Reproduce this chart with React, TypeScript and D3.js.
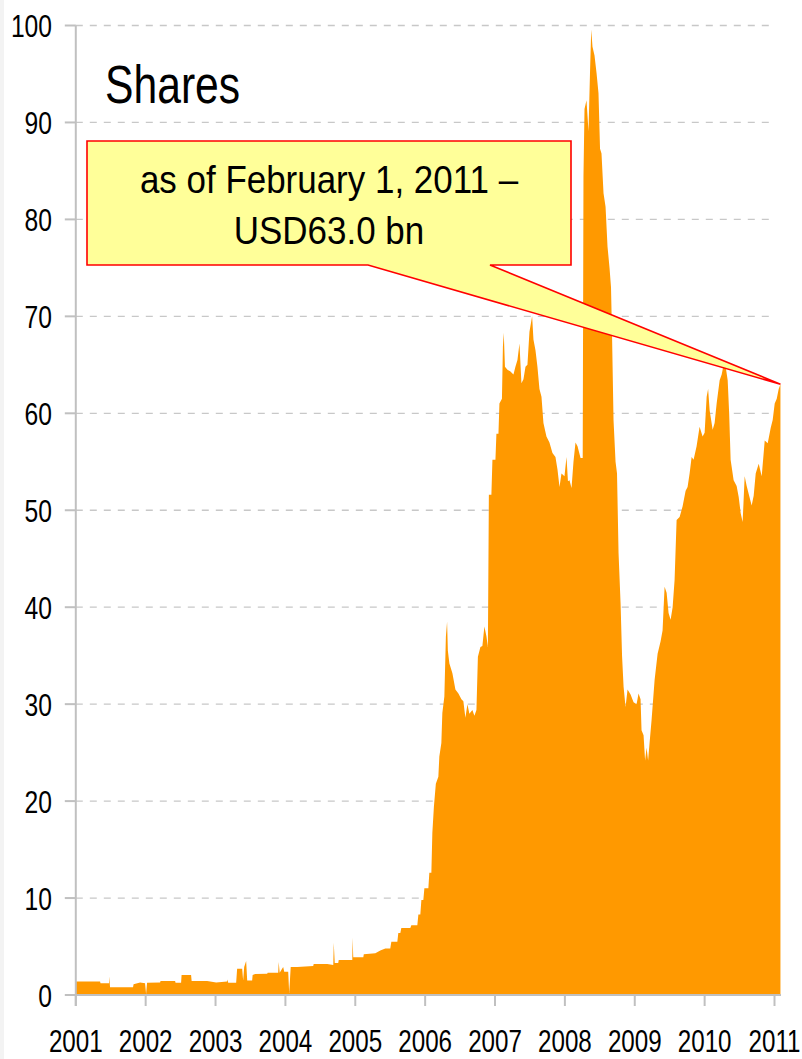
import { FC, useEffect, useRef } from 'react';
import * as d3 from 'd3';

// decimal year of each reading
const dates: number[] = [
  2001.003, 2001.347, 2001.354, 2001.476, 2001.48, 2001.49, 2001.819, 2001.827, 2001.92, 2001.991,
  2002.006, 2002.02, 2002.206, 2002.213, 2002.421, 2002.428, 2002.507, 2002.514, 2002.65, 2002.658,
  2002.88, 2003.009, 2003.166, 2003.173, 2003.181, 2003.295, 2003.309, 2003.381, 2003.395, 2003.41,
  2003.438, 2003.453, 2003.524, 2003.531, 2003.567, 2003.739, 2003.746, 2003.897, 2003.904, 2003.918,
  2003.968, 2003.983, 2004.04, 2004.054, 2004.076, 2004.169, 2004.398, 2004.405, 2004.599, 2004.685,
  2004.692, 2004.706, 2004.756, 2004.763, 2004.957, 2004.961, 2004.971, 2005.115, 2005.122, 2005.287,
  2005.358, 2005.43, 2005.501, 2005.516, 2005.602, 2005.616, 2005.645, 2005.659, 2005.788, 2005.802,
  2005.888, 2005.903, 2005.931, 2005.946, 2005.974, 2005.989, 2006.046, 2006.06, 2006.089, 2006.103,
  2006.125, 2006.153, 2006.189, 2006.203, 2006.232, 2006.246, 2006.275, 2006.297, 2006.314, 2006.325,
  2006.347, 2006.39, 2006.433, 2006.476, 2006.519, 2006.547, 2006.576, 2006.605, 2006.633, 2006.676,
  2006.705, 2006.734, 2006.755, 2006.791, 2006.819, 2006.848, 2006.877, 2006.898, 2006.912, 2006.948,
  2006.963, 2007.006, 2007.02, 2007.049, 2007.063, 2007.099, 2007.113, 2007.125, 2007.142, 2007.178,
  2007.221, 2007.264, 2007.292, 2007.321, 2007.35, 2007.378, 2007.407, 2007.436, 2007.464, 2007.493,
  2007.531, 2007.55, 2007.579, 2007.607, 2007.636, 2007.665, 2007.693, 2007.736, 2007.779, 2007.822,
  2007.865, 2007.894, 2007.923, 2007.951, 2007.994, 2008.023, 2008.044, 2008.066, 2008.095, 2008.123,
  2008.152, 2008.181, 2008.224, 2008.255, 2008.266, 2008.281, 2008.309, 2008.338, 2008.359, 2008.377,
  2008.395, 2008.424, 2008.453, 2008.481, 2008.503, 2008.524, 2008.553, 2008.582, 2008.61, 2008.639,
  2008.66, 2008.675, 2008.696, 2008.725, 2008.746, 2008.768, 2008.797, 2008.818, 2008.84, 2008.868,
  2008.897, 2008.94, 2008.983, 2009.026, 2009.054, 2009.083, 2009.097, 2009.126, 2009.148, 2009.169,
  2009.191, 2009.212, 2009.241, 2009.284, 2009.327, 2009.37, 2009.398, 2009.427, 2009.456, 2009.484,
  2009.513, 2009.542, 2009.57, 2009.599, 2009.642, 2009.685, 2009.728, 2009.756, 2009.785, 2009.814,
  2009.842, 2009.885, 2009.928, 2009.971, 2010.0, 2010.029, 2010.05, 2010.072, 2010.115, 2010.143,
  2010.172, 2010.215, 2010.244, 2010.272, 2010.301, 2010.33, 2010.351, 2010.372, 2010.415, 2010.458,
  2010.487, 2010.516, 2010.544, 2010.573, 2010.602, 2010.63, 2010.673, 2010.702, 2010.731, 2010.774,
  2010.817, 2010.86, 2010.903, 2010.946, 2010.974, 2011.003, 2011.032, 2011.06, 2011.085,
];

// USD bn
const shares: number[] = [
  1.4, 1.4, 1.2, 1.2, 1.9, 0.8, 0.8, 1.1, 1.3, 1.2,
  0.1, 1.27, 1.3, 1.44, 1.44, 1.27, 1.27, 2.06, 2.06, 1.44,
  1.44, 1.3, 1.4, 1.6, 1.27, 1.27, 2.7, 2.7, 1.5, 2.9,
  3.5, 1.5, 1.5, 2.06, 2.17, 2.2, 2.3, 2.3, 3.4, 2.3,
  2.9, 2.4, 2.4, 0.2, 2.9, 2.9, 3.0, 3.2, 3.2, 3.1,
  5.4, 3.3, 3.3, 3.6, 3.6, 5.9, 3.9, 3.9, 4.2, 4.3,
  4.6, 4.8, 4.8, 5.5, 5.5, 6.4, 6.4, 6.9, 6.9, 7.2,
  7.2, 8.3, 8.3, 9.8, 9.8, 11.0, 11.0, 12.6, 12.6, 16.7,
  19.4, 21.8, 22.5, 24.6, 26.0, 29.1, 30.8, 37.0, 38.5, 35.5,
  34.2, 33.2, 31.5, 31.1, 30.5, 30.3, 28.6, 30.0, 29.0, 29.4,
  28.8, 29.4, 34.9, 35.9, 36.0, 38.0, 37.0, 35.9, 51.6, 51.6,
  55.2, 55.2, 57.9, 57.9, 61.0, 61.5, 66.9, 68.3, 64.8, 64.5,
  64.3, 64.0, 64.8, 65.5, 67.2, 63.1, 63.5, 64.8, 65.0, 68.4,
  70.0, 67.6, 66.5, 64.8, 62.5, 61.7, 59.0, 57.6, 57.0, 55.9,
  55.5, 54.2, 52.4, 53.8, 53.5, 55.5, 53.0, 53.1, 52.3, 55.0,
  57.0, 56.6, 55.4, 55.4, 84.5, 91.4, 92.3, 89.1, 95.0, 99.6,
  97.8, 96.9, 95.1, 93.0, 87.3, 86.8, 82.7, 81.3, 77.2, 75.0,
  73.0, 68.0, 59.3, 55.0, 53.8, 45.6, 40.4, 35.0, 31.8, 29.7,
  31.5, 31.0, 30.2, 30.0, 31.1, 30.5, 27.3, 26.8, 24.2, 25.5,
  24.2, 26.0, 28.4, 32.5, 35.2, 36.5, 37.6, 42.1, 41.5, 39.4,
  38.7, 40.0, 42.8, 49.0, 49.3, 50.4, 52.0, 52.4, 53.8, 55.5,
  55.2, 56.6, 58.6, 57.6, 58.0, 61.7, 62.5, 60.3, 58.3, 59.0,
  61.0, 63.4, 64.0, 65.0, 64.8, 63.4, 60.0, 55.2, 53.1, 52.5,
  51.4, 49.7, 48.8, 53.5, 52.5, 51.7, 50.5, 51.5, 53.8, 54.8,
  53.5, 57.2, 56.9, 58.5, 59.3, 61.0, 61.5, 62.5, 63.0,
];

const yTicks: number[] = [0, 10, 20, 30, 40, 50, 60, 70, 80, 90, 100];
const xTicks: number[] = [2001, 2002, 2003, 2004, 2005, 2006, 2007, 2008, 2009, 2010, 2011];

const title = 'Shares';
const calloutLines: string[] = ['as of February 1, 2011 –', 'USD63.0 bn'];

const FONT = '"Liberation Sans", Arial, sans-serif';

export const SharesChart: FC = () => {
  const svgRef = useRef<SVGSVGElement>(null);

  useEffect(() => {
    if (!svgRef.current) return;
    const width = 802;
    const height = 1059;

    d3.select(svgRef.current).selectAll('*').remove();
    const svg = d3.select(svgRef.current)
        .attr('width', width)
        .attr('height', height);

    svg.append('rect')
        .attr('width', width)
        .attr('height', height)
        .attr('fill', '#fff');
    svg.append('rect')
        .attr('width', 4)
        .attr('height', height)
        .attr('fill', '#f3f3f3');

    const x = d3.scaleLinear().domain([2001, 2011]).range([75.8, 774.5]);
    const y = d3.scaleLinear().domain([0, 100]).range([995, 25.5]);

    // dashed grid
    yTicks.filter(t => t > 0).forEach(t => {
      svg.append('line')
          .attr('x1', x(2001))
          .attr('x2', x(2011))
          .attr('y1', y(t))
          .attr('y2', y(t))
          .attr('stroke', '#c8c8c8')
          .attr('stroke-width', 1.3)
          .attr('stroke-dasharray', '7,7');
    });

    // the area
    const points = dates.map((d, i) => [d, shares[i]] as [number, number]);
    const area = d3.area<[number, number]>()
        .x(d => x(d[0]))
        .y0(y(0))
        .y1(d => y(d[1]))
        .curve(d3.curveLinear);

    svg.append('path')
        .datum(points)
        .attr('fill', '#ff9900')
        .attr('d', area);

    // axes
    const axisColor = '#c0c0c0';
    svg.append('line')
        .attr('x1', x(2001))
        .attr('x2', x(2001))
        .attr('y1', y(100))
        .attr('y2', y(0) + 11)
        .attr('stroke', axisColor)
        .attr('stroke-width', 2);
    svg.append('line')
        .attr('x1', x(2001))
        .attr('x2', 781)
        .attr('y1', y(0))
        .attr('y2', y(0))
        .attr('stroke', axisColor)
        .attr('stroke-width', 2);

    yTicks.forEach(t => {
      svg.append('line')
          .attr('x1', x(2001) - 11)
          .attr('x2', x(2001))
          .attr('y1', y(t))
          .attr('y2', y(t))
          .attr('stroke', axisColor)
          .attr('stroke-width', 2);
      svg.append('text')
          .attr('transform', `translate(52,${y(t) + 11.5}) scale(0.77,1)`)
          .attr('text-anchor', 'end')
          .attr('font-family', FONT)
          .attr('font-size', 32)
          .attr('fill', '#000')
          .text(t);
    });

    xTicks.forEach(t => {
      svg.append('line')
          .attr('x1', x(t))
          .attr('x2', x(t))
          .attr('y1', y(0))
          .attr('y2', y(0) + 11)
          .attr('stroke', axisColor)
          .attr('stroke-width', 2);
      svg.append('text')
          .attr('transform', `translate(${x(t)},1052) scale(0.78,1)`)
          .attr('text-anchor', 'middle')
          .attr('font-family', FONT)
          .attr('font-size', 31)
          .attr('fill', '#000')
          .text(t);
    });

    // title
    svg.append('text')
        .attr('transform', 'translate(105,103) scale(0.79,1)')
        .attr('font-family', FONT)
        .attr('font-size', 54)
        .attr('fill', '#000')
        .text(title);

    // callout pointing at the last value
    const last = points[points.length - 1];
    const tipX = x(last[0]);
    const tipY = y(last[1]);
    const box = { left: 87, top: 141, right: 571, bottom: 265 };
    const tail = [368, 490];
    const callout = d3.path();
    callout.moveTo(box.left, box.top);
    callout.lineTo(box.right, box.top);
    callout.lineTo(box.right, box.bottom);
    callout.lineTo(tail[1], box.bottom);
    callout.lineTo(tipX, tipY);
    callout.lineTo(tail[0], box.bottom);
    callout.lineTo(box.left, box.bottom);
    callout.closePath();

    svg.append('path')
        .attr('d', callout.toString())
        .attr('fill', '#ffff99')
        .attr('stroke', '#ff0000')
        .attr('stroke-width', 1.6)
        .attr('stroke-linejoin', 'miter');

    calloutLines.forEach((line, i) => {
      svg.append('text')
          .attr('transform', `translate(${(box.left + box.right) / 2},${193 + i * 51}) scale(0.92,1)`)
          .attr('text-anchor', 'middle')
          .attr('font-family', FONT)
          .attr('font-size', 38)
          .attr('fill', '#000')
          .text(line);
    });
  }, []);

  return <svg ref={svgRef} style={{ position: 'absolute', left: 0, top: 0, display: 'block' }} />;
};

export default function App() {
  return <SharesChart />;
}
